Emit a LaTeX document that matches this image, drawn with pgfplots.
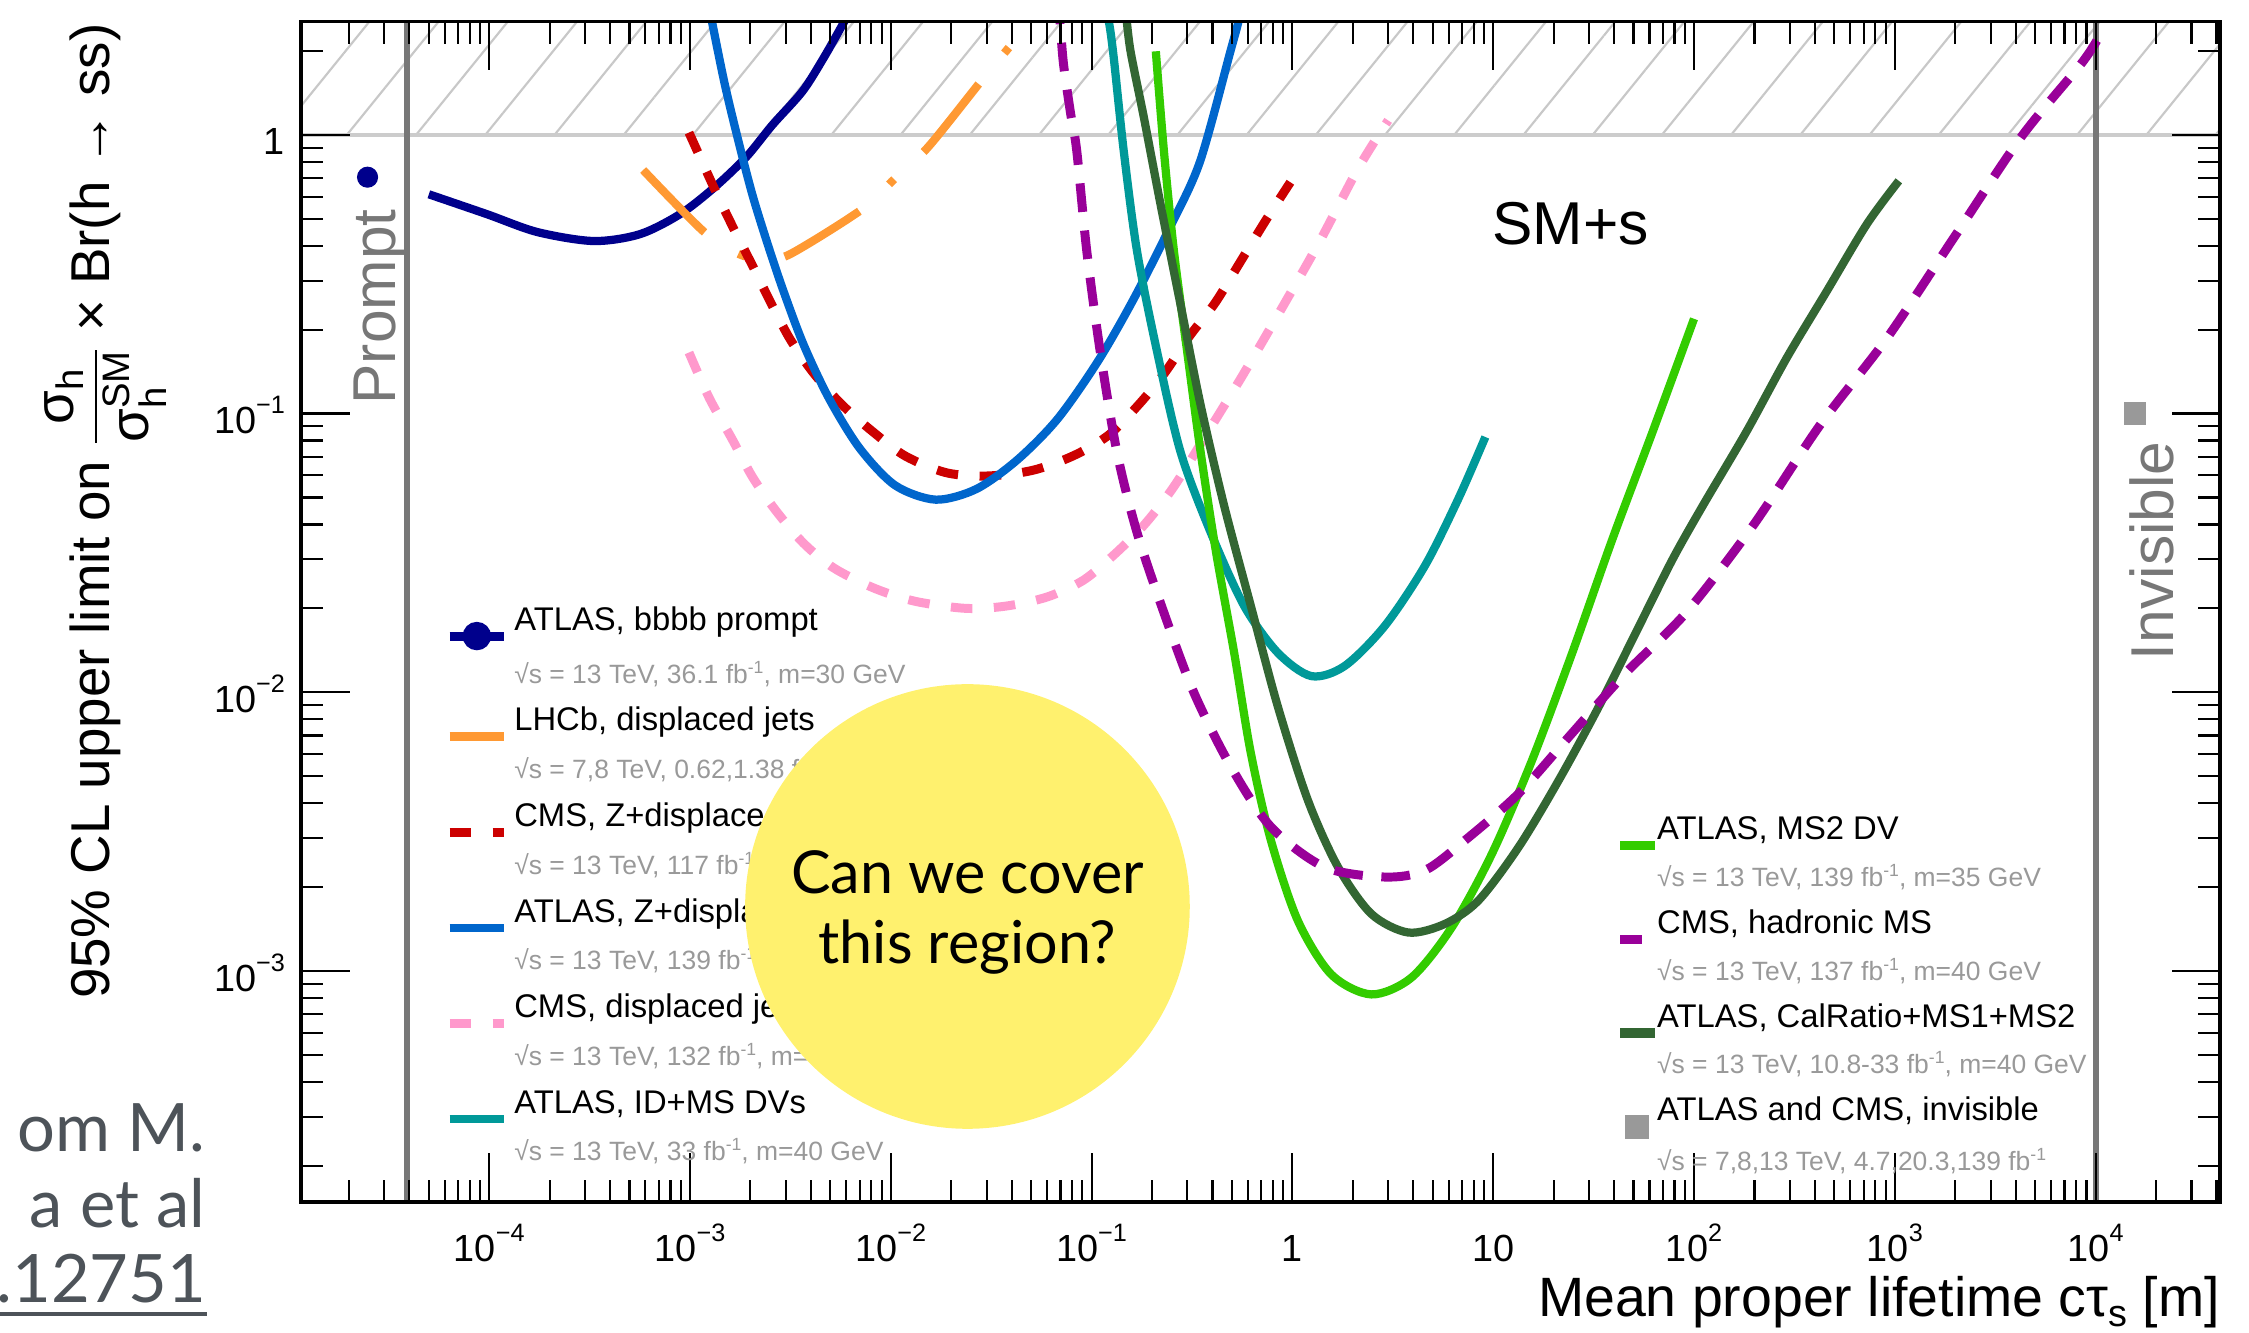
\documentclass[border=0pt]{standalone}
\usepackage{amsmath}
\usepackage{fontspec}
\setmainfont{Liberation Sans}
\newfontfamily\slidefont{Lato}
\usepackage{pgfplots}
\pgfplotsset{compat=1.18}
\usetikzlibrary{patterns.meta}

\definecolor{navyc}{HTML}{00008C}
\definecolor{orangec}{HTML}{FF9933}
\definecolor{redc}{HTML}{CC0000}
\definecolor{bluec}{HTML}{0066CC}
\definecolor{pinkc}{HTML}{FF99CC}
\definecolor{tealc}{HTML}{009999}
\definecolor{greenc}{HTML}{33CC00}
\definecolor{purplec}{HTML}{990099}
\definecolor{dgreenc}{HTML}{336633}
\definecolor{invgray}{HTML}{999999}
\definecolor{subgray}{HTML}{999999}
\definecolor{vgray}{HTML}{777777}
\definecolor{hatchgray}{HTML}{C8C8C8}
\definecolor{onegray}{HTML}{CCCCCC}
\definecolor{yellowc}{HTML}{FFF16E}
\definecolor{slidegray}{HTML}{4D5359}

\newcommand\sci[1]{10\raisebox{2.75mm}{\fontsize{10}{10}\selectfont #1}}
\newcommand\supr[1]{\raisebox{1.4mm}{\fontsize{7}{7}\selectfont #1}}
\newcommand\subt[1]{{\fontsize{10.5}{12}\selectfont\color{subgray}#1}}

\begin{document}
\begin{tikzpicture}
\path[use as bounding box] (0,0) rectangle (313.6mm,185.8mm);

\begin{axis}[
  at={(42mm,18.2mm)}, anchor=south west,
  width=267.6mm, height=164.6mm, scale only axis,
  xmode=log, ymode=log,
  xmin=1.159e-5, xmax=4.178e4, ymin=1.483e-4, ymax=2.551,
  xtick={1e-4,1e-3,1e-2,1e-1,1,10,100,1000,10000},
  xticklabels={\sci{−4},\sci{−3},\sci{−2},\sci{−1},1,10,\sci{2},\sci{3},\sci{4}},
  ytick={1e-3,1e-2,1e-1,1},
  yticklabels={\sci{−3},\sci{−2},\sci{−1},1},
  minor xtick={2e-5,3e-5,4e-5,5e-5,6e-5,7e-5,8e-5,9e-5,
    2e-4,3e-4,4e-4,5e-4,6e-4,7e-4,8e-4,9e-4,
    0.002,0.003,0.004,0.005,0.006,0.007,0.008,0.009,
    0.02,0.03,0.04,0.05,0.06,0.07,0.08,0.09,
    0.2,0.3,0.4,0.5,0.6,0.7,0.8,0.9,
    2,3,4,5,6,7,8,9,
    20,30,40,50,60,70,80,90,
    200,300,400,500,600,700,800,900,
    2000,3000,4000,5000,6000,7000,8000,9000,
    20000,30000,40000},
  minor ytick={2e-4,3e-4,4e-4,5e-4,6e-4,7e-4,8e-4,9e-4,
    0.002,0.003,0.004,0.005,0.006,0.007,0.008,0.009,
    0.02,0.03,0.04,0.05,0.06,0.07,0.08,0.09,
    0.2,0.3,0.4,0.5,0.6,0.7,0.8,0.9,2},
  tick align=inside,
  major tick length=6.8mm, minor tick length=3.1mm,
  every tick/.style={black, line width=0.3mm},
  axis line style={line width=0.55mm},
  axis on top=true,
  xticklabel style={anchor=base, yshift=-8.3mm, inner sep=0pt, font=\fontsize{15}{18}\selectfont},
  yticklabel style={anchor=base east, yshift=-2.8mm, xshift=-2.2mm, inner sep=0pt, font=\fontsize{15}{18}\selectfont},
  legend cell align=left,
  legend style={draw=none, fill=none, at={(0.0750,0.5122)}, anchor=north west,
    inner sep=0pt, outer sep=0pt, row sep=0pt, column sep=0.8mm,
    font=\fontsize{13}{15}\selectfont, cells={anchor=base west},
    nodes={inner sep=0pt, outer sep=0pt, text height=4.6mm, text depth=2.06mm}},
  legend image code/.code={\draw[#1] (0mm,-0.8mm) -- (7.6mm,-0.8mm);},
]

% excluded region above 1
\addplot[draw=none, forget plot, pattern={Lines[angle=51,distance=7.5mm,line width=0.3mm]}, pattern color=hatchgray]
  coordinates {(1e-6,1) (1e6,1) (1e6,10) (1e-6,10)};
\addplot[onegray, line width=0.55mm, forget plot] coordinates {(1e-6,1) (1e6,1)};
% prompt and invisible boundaries
\addplot[vgray, line width=0.8mm, forget plot] coordinates {(3.9e-5,1e-5) (3.9e-5,100)};
\addplot[vgray, line width=0.8mm, forget plot] coordinates {(1e4,1e-5) (1e4,100)};

% ATLAS bbbb prompt
\addplot[navyc, line width=1.15mm, smooth,
  legend image code/.code={\draw[navyc, line width=1.25mm] (0mm,-0.8mm) -- (7.6mm,-0.8mm); \fill[navyc] (3.8mm,-0.8mm) circle (1.4mm);}]
  coordinates {(5.01e-5,0.612) (9.77e-5,0.519) (1.738e-4,0.448) (3.311e-4,0.416) (5.623e-4,0.440) (8.913e-4,0.519) (1.318e-3,0.646) (1.905e-3,0.832) (2.570e-3,1.084) (3.631e-3,1.432) (4.624e-3,1.884) (5.821e-3,2.523) (6.918e-3,3.162)};
\addlegendentry{ATLAS, bbbb prompt}
\addlegendimage{empty legend}
\addlegendentry{\subt{√s = 13 TeV, 36.1 fb\supr{-1}, m=30 GeV}}
\addplot[only marks, mark=*, mark size=1.4mm, navyc, forget plot] coordinates {(2.48e-5,0.705)};

% LHCb displaced jets
\addplot[orangec, line width=1.15mm, smooth, dash pattern=on 12.2mm off 5.6mm on 1mm off 5.6mm,
  legend image code/.code={\draw[orangec, line width=1.25mm] (0mm,-0.8mm) -- (7.6mm,-0.8mm);}]
  coordinates {(5.848e-4,0.748) (1.178e-3,0.448) (1.778e-3,0.372) (2.399e-3,0.359) (3.170e-3,0.374) (7.178e-3,0.540) (1.050e-2,0.698) (1.535e-2,0.904) (2.825e-2,1.563) (3.917e-2,2.075)};
\addlegendentry{LHCb, displaced jets}
\addlegendimage{empty legend}
\addlegendentry{\subt{√s = 7,8 TeV, 0.62,1.38 fb\supr{-1}, m=35 GeV}}

% CMS Z+displaced jets
\addplot[redc, line width=1.25mm, smooth, dash pattern=on 3mm off 3mm]
  coordinates {(9.886e-4,1.019) (1.324e-3,0.641) (1.626e-3,0.471) (2.046e-3,0.340) (2.588e-3,0.2415) (3.170e-3,0.1837) (4.130e-3,0.1396) (5.689e-3,0.1079) (8.072e-3,0.0865) (1.178e-2,0.0705) (1.879e-2,0.0614) (2.992e-2,0.0597) (5.058e-2,0.0625) (8.091e-2,0.0705) (0.1213,0.0836) (0.1722,0.1079) (0.2307,0.1396) (0.3083,0.1901) (0.4130,0.2500) (0.5534,0.3524) (0.7396,0.4955) (0.9772,0.6761)};
\addlegendentry{CMS, Z+displaced jets}
\addlegendimage{empty legend}
\addlegendentry{\subt{√s = 13 TeV, 117 fb\supr{-1}, m=40 GeV}}

% ATLAS Z+displaced vertices
\addplot[bluec, line width=1.15mm, smooth]
  coordinates {(1.175e-3,3.548) (1.285e-3,2.564) (1.486e-3,1.535) (1.722e-3,0.984) (2.046e-3,0.610) (2.443e-3,0.4036) (2.911e-3,0.2773) (3.673e-3,0.1774) (4.909e-3,0.1138) (6.982e-3,0.0753) (1.050e-2,0.0553) (1.675e-2,0.0491) (2.667e-2,0.0536) (4.256e-2,0.0681) (6.776e-2,0.0957) (0.1081,0.1549) (0.1626,0.2588) (0.2443,0.4624) (0.3467,0.8017) (0.4932,2.014) (0.5370,2.523) (0.5754,3.162)};
\addlegendentry{ATLAS, Z+displaced vertices}
\addlegendimage{empty legend}
\addlegendentry{\subt{√s = 13 TeV, 139 fb\supr{-1}, m=40 GeV}}

% CMS displaced jets
\addplot[pinkc, line width=1.25mm, smooth, dash pattern=on 3mm off 3mm]
  coordinates {(9.886e-4,0.1656) (1.247e-3,0.1138) (1.626e-3,0.0807) (2.046e-3,0.0593) (2.661e-3,0.0451) (3.673e-3,0.0343) (5.212e-3,0.0279) (8.299e-3,0.0236) (1.324e-2,0.0212) (2.371e-2,0.0200) (3.784e-2,0.0204) (6.039e-2,0.0220) (9.078e-2,0.0252) (0.1285,0.0310) (0.1824,0.0398) (0.2570,0.0547) (0.3917,0.0891) (0.5534,0.1337) (0.7816,0.2042) (1.340,0.4036) (2.123,0.7568) (2.999,1.127)};
\addlegendentry{CMS, displaced jets}
\addlegendimage{empty legend}
\addlegendentry{\subt{√s = 13 TeV, 132 fb\supr{-1}, m=40 GeV}}

% ATLAS ID+MS DVs
\addplot[tealc, line width=1.15mm, smooth]
  coordinates {(0.1122,3.162) (0.1216,2.570) (0.1288,1.905) (0.1445,0.879) (0.1683,0.3837) (0.2118,0.1671) (0.2773,0.0729) (0.3917,0.0375) (0.5754,0.0204) (0.8453,0.01387) (1.242,0.01143) (1.820,0.01242) (2.884,0.01730) (4.571,0.02844) (6.714,0.04955) (9.141,0.0824)};
\addlegendentry{ATLAS, ID+MS DVs}
\addlegendimage{empty legend}
\addlegendentry{\subt{√s = 13 TeV, 33 fb\supr{-1}, m=40 GeV}}

% ATLAS MS2 DV
\addplot[greenc, line width=1.15mm, smooth, forget plot]
  coordinates {(0.2089,1.995) (0.2291,0.879) (0.2570,0.3837) (0.2992,0.1671) (0.3491,0.0729) (0.4169,0.03177) (0.5129,0.01387) (0.6209,0.006053) (0.7816,0.002944) (1.064,0.001517) (1.560,0.000973) (2.472,0.000824) (3.926,0.000948) (6.223,0.001435) (9.863,0.002636) (15.63,0.005715) (24.77,0.01387) (39.26,0.03548) (62.23,0.0861) (100,0.2188)};

% ATLAS CalRatio+MS1+MS2
\addplot[dgreenc, line width=1.15mm, smooth, forget plot]
  coordinates {(0.1479,2.818) (0.1560,2.014) (0.1820,1.159) (0.2203,0.5649) (0.2773,0.2460) (0.3491,0.1074) (0.4571,0.04677) (0.6209,0.02042) (0.8453,0.008913) (1.194,0.004102) (1.687,0.002360) (2.472,0.001603) (3.776,0.001374) (5.754,0.001476) (8.453,0.001791) (13.40,0.002786) (21.23,0.004842) (33.65,0.008913) (53.33,0.01730) (78.34,0.03006) (110.7,0.04677) (182.4,0.0861) (289.1,0.1581) (458.1,0.2748) (726.1,0.4786) (1047,0.6839)};

% CMS hadronic MS
\addplot[purplec, line width=1.25mm, smooth, dash pattern=on 4mm off 2.6mm, forget plot]
  coordinates {(6.761e-2,3.162) (6.982e-2,2.483) (7.244e-2,1.803) (7.852e-2,1.202) (8.433e-2,0.879) (9.462e-2,0.3837) (0.1104,0.1671) (0.1337,0.0729) (0.1683,0.0375) (0.2291,0.01932) (0.3236,0.009954) (0.4932,0.005420) (0.7816,0.003289) (1.445,0.002360) (2.884,0.002173) (4.571,0.002296) (7.244,0.002944) (13.40,0.004335) (24.77,0.007145) (45.81,0.01175) (91.41,0.01932) (196.8,0.03963) (424.6,0.0910) (914.1,0.1866) (1972,0.4285) (4256,0.9817) (8492,1.803) (10471,2.270)};

% invisible
\addplot[only marks, mark=square*, mark size=1.5mm, invgray, forget plot] coordinates {(1.57e4,0.1)};
\end{axis}

% right-hand legend
\begin{axis}[
  at={(42mm,18.2mm)}, anchor=south west,
  width=267.6mm, height=164.6mm, scale only axis, hide axis,
  xmin=0, xmax=1, ymin=0, ymax=1,
  legend cell align=left,
  legend style={draw=none, fill=none, at={(0.685,0.3341)}, anchor=north west,
    inner sep=0pt, outer sep=0pt, row sep=0pt, column sep=-0.4mm,
    font=\fontsize{13}{15}\selectfont, cells={anchor=base west},
    nodes={inner sep=0pt, outer sep=0pt, text height=4.5mm, text depth=2.03mm}},
  legend image code/.code={\draw[#1] (0mm,-0.8mm) -- (4.86mm,-0.8mm);},
]
\addlegendimage{greenc, line width=1.3mm}
\addlegendentry{ATLAS, MS2 DV}
\addlegendimage{empty legend}
\addlegendentry{\subt{√s = 13 TeV, 139 fb\supr{-1}, m=35 GeV}}
\addlegendimage{purplec, line width=1.3mm, legend image code/.code={\draw[purplec, line width=1.3mm] (0mm,-0.8mm) -- (3mm,-0.8mm);}}
\addlegendentry{CMS, hadronic MS}
\addlegendimage{empty legend}
\addlegendentry{\subt{√s = 13 TeV, 137 fb\supr{-1}, m=40 GeV}}
\addlegendimage{dgreenc, line width=1.3mm}
\addlegendentry{ATLAS, CalRatio+MS1+MS2}
\addlegendimage{empty legend}
\addlegendentry{\subt{√s = 13 TeV, 10.8-33 fb\supr{-1}, m=40 GeV}}
\addlegendimage{legend image code/.code={\fill[invgray] (0.7mm,-2.4mm) rectangle (3.9mm,0.8mm);}}
\addlegendentry{ATLAS and CMS, invisible}
\addlegendimage{empty legend}
\addlegendentry{\subt{√s = 7,8,13 TeV, 4.7,20.3,139 fb\supr{-1}}}
\end{axis}

% axis titles
\node[rotate=90, anchor=base east, inner sep=0pt, font=\fontsize{21.7}{26}\selectfont] at (15.2mm,182.6mm)
  {95\% CL upper limit on $\dfrac{\text{σ}_{\text{h}}}{\text{σ}_{\text{h}}^{\text{SM}}}$ × Br(h → ss)};
\node[anchor=base east, inner sep=0pt, font=\fontsize{22}{26}\selectfont] at (309.6mm,2.2mm)
  {Mean proper lifetime cτ\raisebox{-1.3mm}{\fontsize{15}{15}\selectfont s} [m]};

% annotations
\node[rotate=90, anchor=base, inner sep=0pt, text=vgray, font=\fontsize{24}{24}\selectfont] at (55.2mm,143mm) {Prompt};
\node[rotate=90, anchor=base, inner sep=0pt, text=vgray, font=\fontsize{24}{24}\selectfont] at (303mm,109mm) {Invisible};
\node[inner sep=0pt, font=\fontsize{24}{24}\selectfont] at (219mm,154.6mm) {SM+s};

% slide overlay
\fill[yellowc] (134.9mm,59.4mm) circle (31mm);
\node[anchor=base, inner sep=0pt, font=\slidefont\fontsize{23.5}{28}\selectfont] at (134.9mm,61.2mm) {Can we cover};
\node[anchor=base, inner sep=0pt, font=\slidefont\fontsize{23.5}{28}\selectfont] at (134.9mm,51.5mm) {this region?};

\node[anchor=base east, inner sep=0pt, text=slidegray, font=\slidefont\fontsize{26.5}{32}\selectfont] at (28.7mm,25.3mm) {om M.};
\node[anchor=base east, inner sep=0pt, text=slidegray, font=\slidefont\fontsize{26.5}{32}\selectfont] at (28.7mm,14.6mm) {a et al};
\node[anchor=base east, inner sep=0pt, text=slidegray, font=\slidefont\fontsize{26.5}{32}\selectfont] (ul) at (28.8mm,4.2mm) {.12751};
\draw[slidegray, line width=0.5mm] ([yshift=-1.6mm]ul.base west) -- ([yshift=-1.6mm]ul.base east);
\end{tikzpicture}
\end{document}
